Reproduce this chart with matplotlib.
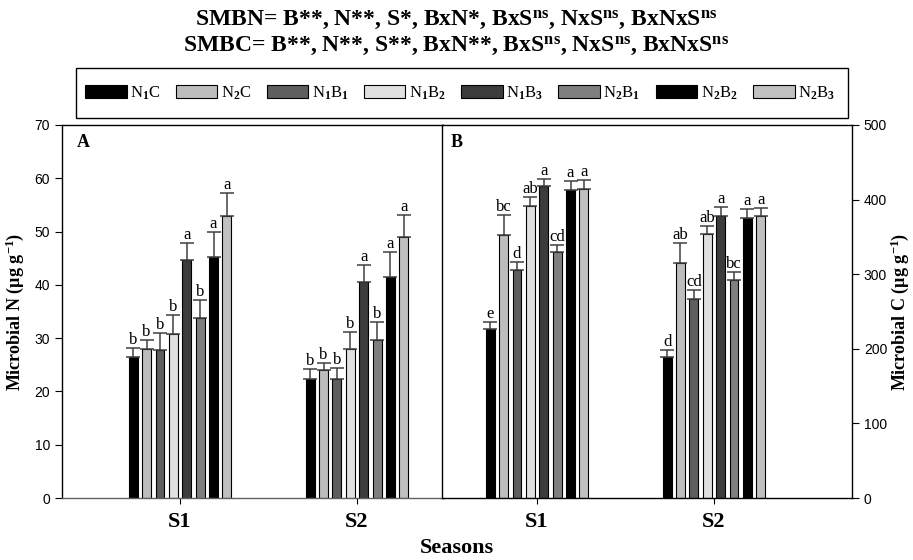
import matplotlib.pyplot as plt
from matplotlib.patches import Rectangle, Patch
import numpy as np

plt.rcParams['font.family'] = ['Liberation Serif', 'DejaVu Serif']
plt.rcParams['mathtext.fontset'] = 'custom'
plt.rcParams['mathtext.rm'] = 'Liberation Serif:bold'
plt.rcParams['mathtext.bf'] = 'Liberation Serif:bold'
plt.rcParams['mathtext.it'] = 'Liberation Serif:bold'

# ---- data ----
seasons = ['S1', 'S2']
treatments = [r'N$_{1}$C', r'N$_{2}$C', r'N$_{1}$B$_{1}$', r'N$_{1}$B$_{2}$',
              r'N$_{1}$B$_{3}$', r'N$_{2}$B$_{1}$', r'N$_{2}$B$_{2}$', r'N$_{2}$B$_{3}$']
bar_colors = ['#000000', '#bdbdbd', '#5e5e5e', '#e0e0e0',
              '#3c3c3c', '#7f7f7f', '#000000', '#c0c0c0']

# microbial N (panel A): rows = treatments, cols = seasons
mbn_mean = [[26.4, 22.3], [28.0, 24.0], [27.8, 22.3], [30.7, 28.0],
            [44.6, 40.6], [33.7, 29.7], [45.3, 41.4], [53.0, 49.0]]
mbn_err = [[1.8, 1.9], [1.6, 1.4], [3.1, 2.1], [3.6, 3.2],
           [3.3, 3.2], [3.4, 3.4], [4.7, 4.7], [4.3, 4.2]]
mbn_letters = [['b', 'b'], ['b', 'b'], ['b', 'b'], ['b', 'b'],
               ['a', 'a'], ['b', 'b'], ['a', 'a'], ['a', 'a']]

# microbial C (panel B)
mbc_mean = [[226.7, 189.6], [352.9, 315.3], [305.0, 267.0], [391.8, 354.2],
            [417.7, 377.9], [329.2, 292.5], [412.3, 375.7], [414.6, 377.5]]
mbc_err = [[9.0, 8.4], [26.8, 26.7], [11.6, 12.0], [11.2, 10.8],
           [9.3, 12.1], [10.2, 10.3], [12.1, 11.6], [11.6, 11.1]]
mbc_letters = [['e', 'd'], ['bc', 'ab'], ['d', 'cd'], ['ab', 'ab'],
               ['a', 'a'], ['cd', 'bc'], ['a', 'a'], ['a', 'a']]

title_1 = r'SMBN= B**, N**, S*, BxN*, BxS$^{\mathbf{ns}}$, NxS$^{\mathbf{ns}}$, BxNxS$^{\mathbf{ns}}$'
title_2 = r'SMBC= B**, N**, S**, BxN**, BxS$^{\mathbf{ns}}$, NxS$^{\mathbf{ns}}$, BxNxS$^{\mathbf{ns}}$'

W, H = 913, 560
fig = plt.figure(figsize=(W / 100, H / 100), dpi=100)

ax_a = fig.add_axes([62 / W, 1 - 498 / H, 381 / W, 373 / H])
ax_b = fig.add_axes([442 / W, 1 - 498 / H, 410 / W, 373 / H])

slot = 0.0757
bar_w = 0.05
x = np.arange(len(seasons))


def draw_panel(ax, mean, err, letters):
    mean = np.array(mean)
    err = np.array(err)
    for i in range(len(treatments)):
        xs = x + (i - 3.5) * slot
        ax.bar(xs, mean[i], width=bar_w, color=bar_colors[i],
               edgecolor='black', linewidth=0.8, zorder=2)
        ax.errorbar(xs, mean[i], yerr=[np.zeros_like(err[i]), err[i]],
                    fmt='none', ecolor='#404040', elinewidth=1.1,
                    capsize=5, capthick=1.1, zorder=3)
        for j in range(len(seasons)):
            ax.annotate(letters[i][j], (xs[j], mean[i][j] + err[i][j]),
                        xytext=(0, 0), textcoords='offset points',
                        ha='center', va='bottom', fontsize=12)
    ax.set_xticks(x)
    ax.set_xticklabels(seasons, fontsize=16, fontweight='bold')
    ax.tick_params(axis='x', length=4, width=0.8, pad=6)
    for s in ax.spines.values():
        s.set_linewidth(1.0)


draw_panel(ax_a, mbn_mean, mbn_err, mbn_letters)
ax_a.set_xlim(-0.667, 1.486)
ax_a.set_ylim(0, 70)
ax_a.set_yticks(np.arange(0, 71, 10))
ax_a.tick_params(axis='y', labelsize=10, length=5, width=0.8, labelfontfamily='Liberation Sans')
ax_a.spines['bottom'].set_color('#606060')
ax_a.set_ylabel(r'Microbial N (µg g$^{\mathbf{-1}}$)', fontsize=13, fontweight='bold', labelpad=6)
ax_a.text(0.04, 0.94, 'A', transform=ax_a.transAxes, fontsize=13, fontweight='bold')

draw_panel(ax_b, mbc_mean, mbc_err, mbc_letters)
ax_b.set_xlim(-0.537, 1.78)
ax_b.set_ylim(0, 500)
ax_b.yaxis.tick_right()
ax_b.yaxis.set_label_position('right')
ax_b.set_yticks(np.arange(0, 501, 100))
ax_b.tick_params(axis='y', labelsize=10, length=5, width=0.8, labelfontfamily='Liberation Sans')
ax_b.set_ylabel(r'Microbial C (µg g$^{\mathbf{-1}}$)', fontsize=13, fontweight='bold', labelpad=1)
ax_b.text(0.02, 0.94, 'B', transform=ax_b.transAxes, fontsize=13, fontweight='bold')

fig.text(0.5, 1 - 548 / H, 'Seasons', ha='center', va='center', fontsize=16, fontweight='bold')
fig.text(0.5, 1 - 20 / H, title_1, ha='center', va='center', fontsize=17, fontweight='bold')
fig.text(0.5, 1 - 46 / H, title_2, ha='center', va='center', fontsize=17, fontweight='bold')

# legend box
fig.add_artist(Rectangle((76 / W, 1 - 118 / H), (848 - 76) / W, 50 / H,
                         transform=fig.transFigure, fill=False,
                         edgecolor='black', linewidth=1.0))
handles = [Patch(facecolor=c, edgecolor='black', linewidth=0.8) for c in bar_colors]
fig.legend(handles, treatments, loc='center',
           bbox_to_anchor=(80 / W, 1 - 118 / H, (840 - 80) / W, 50 / H),
           mode='expand', ncol=8, frameon=False, fontsize=12,
           handlelength=2.5, handleheight=0.8, handletextpad=0.2,
           borderaxespad=0, borderpad=0.3)

fig.savefig('out.png', dpi=100)
